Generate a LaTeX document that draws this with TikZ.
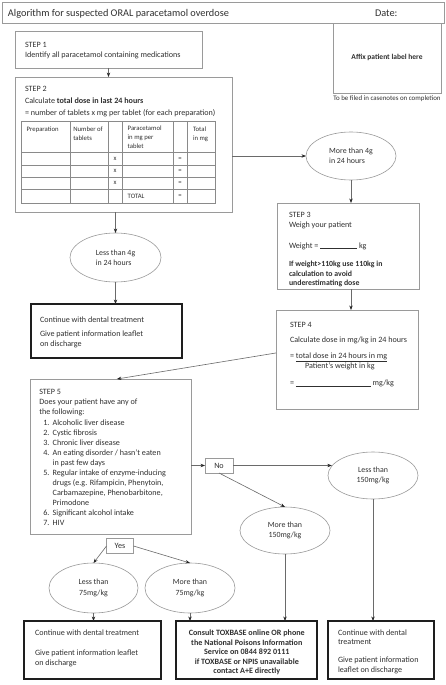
\documentclass[tikz,border=0pt]{standalone}
\usepackage{fontspec}
\setmainfont{Carlito}
\usetikzlibrary{arrows.meta,shapes.geometric,calc,fit}
\definecolor{txt}{HTML}{303030}
\definecolor{boxline}{HTML}{9A9A9A}
\definecolor{conn}{HTML}{6A6A6A}
\definecolor{outline}{HTML}{1E1E1E}
\definecolor{gridc}{HTML}{8A8A8A}
\begin{document}
\begin{tikzpicture}[x=1pt,y=-1pt,
  every node/.style={text=txt,inner sep=0pt,outer sep=0pt},
  tline/.style={font=\fontsize{8.1}{10.1}\selectfont,anchor=base west,align=left},
  tbold/.style={font=\fontsize{8.1}{10.1}\selectfont\bfseries,anchor=base west,align=left},
  tsmall/.style={font=\fontsize{6.7}{9}\selectfont,anchor=base west,align=left},
  tcell/.style={font=\fontsize{6.7}{9}\selectfont},
  stepbox/.style={draw=boxline,line width=0.6pt},
  outbox/.style={draw=outline,line width=1.3pt},
  oval/.style={ellipse,draw=boxline,line width=0.6pt,minimum width=90pt,minimum height=48pt,font=\fontsize{7.9}{10.4}\selectfont,align=center},
  tagbox/.style={draw=boxline,line width=0.6pt,minimum width=27pt,minimum height=15pt,font=\fontsize{8.1}{10}\selectfont},
  arr/.style={draw=conn,line width=0.6pt,-{Stealth[length=4.5pt,width=3.4pt,color=black!85]}},
  gridline/.style={draw=gridc,line width=0.5pt},
]
\path[use as bounding box,fill=white] (0,0) rectangle (446,685);

% title and label area (multi-line nodes are placed by the baseline of their last line)
\node[draw=boxline,line width=0.8pt,fit={(2,2) (444,23)}] (title) {};
\node[tline,font=\fontsize{10.3}{12}\selectfont] (ttl) at (8,16.8) {Algorithm for suspected ORAL paracetamol overdose};
\node[tline,font=\fontsize{10.3}{12}\selectfont] (date) at (375,16.8) {Date:};
\node[stepbox,fit={(333,23) (441,93)}] (affix) {};
\node[font=\fontsize{7.5}{8}\selectfont\bfseries] (afftxt) at (387,57) {Affix patient label here};
\node[font=\fontsize{6.9}{8}\selectfont] (filed) at (387,99) {To be filed in casenotes on completion};

% step 1
\node[stepbox,fit={(15,31) (202,68)}] (s1) {};
\node[tline] (s1a) at (25,57.9) {STEP 1\\Identify all paracetamol containing medications};

% step 2
\node[stepbox,fit={(15,77) (232,212)}] (s2) {};
\node[tline,font=\fontsize{8.1}{12}\selectfont] (s2a) at (25,115.8) {STEP 2\\Calculate \textbf{total dose in last 24 hours}\\= number of tablets x mg per tablet (for each preparation)};
\draw[gridline] (21,121) rectangle (215,203);
\foreach \yy in {152.3,165,177.3,189.3} \draw[gridline] (21,\yy) -- (215,\yy);
\foreach \xx in {70,108,122,173,187} \draw[gridline] (\xx,121) -- (\xx,203);
\node[tsmall] (h1) at (26.7,131) {Preparation};
\node[tsmall] (h2) at (73.3,140) {Number of\\tablets};
\node[tsmall] (h3) at (127.7,148.5) {Paracetamol\\in mg per\\tablet};
\node[tsmall] (h4) at (193,140) {Total\\in mg};
\foreach \yy [count=\i] in {158.7,171.2,183.3} \node[tcell] (x\i) at (115,\yy) {x};
\foreach \yy [count=\i] in {158.7,171.2,183.3,196.2} \node[tcell] (eq\i) at (180,\yy) {=};
\node[tcell,anchor=west] (tot) at (127.7,196.2) {TOTAL};
\draw[arr] (s1.south) -- (s1.south |- s2.north);

% more than 4g branch
\node[oval,align=left] (e4g) at (351,156) {More than 4g\\in 24 hours};
\draw[arr] (s2.east |- e4g.west) -- (e4g.west);

% step 3
\node[stepbox,fit={(277,203) (419,289)}] (s3) {};
\draw[arr] (e4g.south) -- (e4g.south |- s3.north);
\node[tline] (s3a) at (289,227.6) {STEP 3\\Weigh your patient};
\node[tline] (s3b) at (289,248.2) {Weight = \rule[-0.5pt]{37pt}{0.4pt}\ kg};
\node[tbold,font=\fontsize{7.8}{9.5}\selectfont\bfseries] (s3c) at (289,285.8) {If weight>110kg use 110kg in\\calculation to avoid\\underestimating dose};

% step 4
\node[stepbox,fit={(276,310) (418,409)}] (s4) {};
\draw[arr] (e4g.south |- s3.south) -- (e4g.south |- s4.north);
\node[tline] (s4a) at (290,327.5) {STEP 4};
\node[tline] (s4b) at (290,342.5) {Calculate dose in mg/kg in 24 hours};
\node[tline] (s4c) at (290,358.2) {= \underline{total dose in 24 hours in mg}};
\node[tline] (s4d) at (305,368.2) {Patient’s weight in kg};
\node[tline] (s4e) at (290,385.8) {= \rule[-0.5pt]{75pt}{0.4pt} mg/kg};

% step 5
\node[stepbox,fit={(30,379) (191,534)}] (s5) {};
\draw[arr] ($(s4.north west)!0.434!(s4.south west)$) -- ($(s5.north west)!0.54!(s5.north east)$);
\node[tline,font=\fontsize{8.1}{10.08}\selectfont] (s5a) at (39.3,525.8) {STEP 5\\
Does your patient have any of\\
the following:\\
\hspace*{4pt}\makebox[9.4pt][l]{1.}Alcoholic liver disease\\
\hspace*{4pt}\makebox[9.4pt][l]{2.}Cystic fibrosis\\
\hspace*{4pt}\makebox[9.4pt][l]{3.}Chronic liver disease\\
\hspace*{4pt}\makebox[9.4pt][l]{4.}An eating disorder / hasn’t eaten\\
\hspace*{13.4pt}in past few days\\
\hspace*{4pt}\makebox[9.4pt][l]{5.}Regular intake of enzyme-inducing\\
\hspace*{13.4pt}drugs (e.g. Rifampicin, Phenytoin,\\
\hspace*{13.4pt}Carbamazepine, Phenobarbitone,\\
\hspace*{13.4pt}Primodone\\
\hspace*{4pt}\makebox[9.4pt][l]{6.}Significant alcohol intake\\
\hspace*{4pt}\makebox[9.4pt][l]{7.}HIV};

% No branch
\node[tagbox,minimum width=28pt] (no) at (219,465.5) {No};
\draw[arr] (s5.east |- no.west) -- (no.west);
\node[oval,minimum height=47pt] (l150) at (373,475.5) {Less than\\150mg/kg};
\draw[arr] (no.east) -- (no.east -| l150.167);
\node[oval,minimum height=47pt] (m150) at (285,530.5) {More than\\150mg/kg};
\draw[arr] (no.south) -- (m150.north);

% Yes branch
\node[tagbox] (yes) at (120,546) {Yes};
\node[oval,minimum width=89pt,minimum height=50pt] (l75) at (93.5,588) {Less than\\75mg/kg};
\node[oval,minimum height=50pt] (m75) at (190,588) {More than\\75mg/kg};
\draw[arr] (yes.west) -- (l75.north);
\draw[arr] (yes.east) -- (m75.north);

% less than 4g branch
\node[oval,align=left,minimum width=91pt,minimum height=49pt] (l4g) at (115.5,257.5) {Less than 4g\\in 24 hours};
\draw[arr] (l4g.north |- s2.south) -- (l4g.north);
\node[outbox,fit={(31,304) (182,358)}] (c1) {};
\draw[arr] (l4g.south) -- (l4g.south |- c1.north);
\node[tline] (c1a) at (40,322.5) {Continue with dental treatment};
\node[tline] (c1b) at (40,346.9) {Give patient information leaflet\\on discharge};

% outcome boxes
\node[outbox,fit={(24,621) (161,679)}] (bl) {};
\node[outbox,fit={(176,621) (317,679)}] (tox) {};
\node[outbox,fit={(328,621) (434,679)}] (br) {};
\draw[arr] (l75.south) -- (l75.south |- bl.north);
\draw[arr] (m75.south) -- (m75.south |- tox.north);
\draw[arr] (m150.south) -- (m150.south |- tox.north);
\draw[arr] (l150.south) -- (l150.south |- br.north);
\node[tline] (bla) at (35,635.5) {Continue with dental treatment};
\node[tline] (blb) at (35,665.6) {Give patient information leaflet\\on discharge};
\node[anchor=base,align=center,font=\fontsize{8.1}{9.6}\selectfont\bfseries] (toxa) at (246.8,673.9) {Consult TOXBASE online OR phone\\the National Poisons Information\\Service on 0844 892 0111\\if TOXBASE or NPIS unavailable\\contact A+E directly};
\node[tline,font=\fontsize{8.1}{9}\selectfont] (bra) at (338,644.5) {Continue with dental\\treatment};
\node[tline] (brb) at (338,672.6) {Give patient information\\leaflet on discharge};
\end{tikzpicture}
\end{document}
